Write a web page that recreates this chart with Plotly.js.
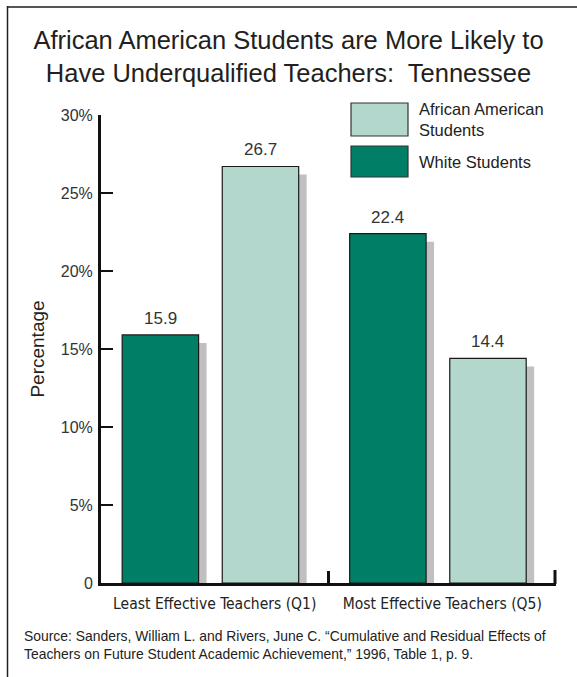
<!DOCTYPE html>
<html>
<head>
<meta charset="utf-8">
<script src="https://cdn.plot.ly/plotly-3.0.1.min.js"></script>
<style>
  html, body { margin: 0; padding: 0; background: #fff; }
  #chart { width: 577px; height: 677px; }
</style>
</head>
<body>
<div id="chart"></div>
<script>
// ---- data ----
const categories = ["Least Effective Teachers (Q1)", "Most Effective Teachers (Q5)"];
const seriesNames = ["White Students", "African American<br>Students"];
const whiteValues = [15.9, 22.4];
const africanAmericanValues = [26.7, 14.4];
const yTickValues = [0, 5, 10, 15, 20, 25, 30];
const yTickLabels = ["0", "5%", "10%", "15%", "20%", "25%", "30%"];
const titleText = "African American Students are More Likely to<br>Have Underqualified Teachers:  Tennessee";
const yTitle = "Percentage";
const sourceText = "Source: Sanders, William L. and Rivers, June C. \u201cCumulative and Residual Effects of<br>Teachers on Future Student Academic Achievement,\u201d 1996, Table 1, p. 9.";

// ---- style ----
const GREEN = "#007f66";
const LIGHT = "#b3d6cd";
const SHADOW = "#c0c0c0";
const EDGE = "#1a1a1a";
const FONT = "Liberation Sans, Arial, sans-serif";
const NARROW = "DejaVu Sans Condensed, Liberation Sans, Arial, sans-serif";

const barW = 0.336;
const offs = [-0.407, 0.033];
const shOffX = 0.035;   // ~8px shadow shift
const shDrop = 0.52;    // ~8px shadow drop in data units

const dropped = arr => arr.map(v => v - shDrop);

const traces = [
  // shadows
  { type: "bar", x: categories, y: dropped(whiteValues), offset: offs[0] + shOffX, width: barW,
    marker: { color: SHADOW, line: { width: 0 } }, hoverinfo: "skip", showlegend: false },
  { type: "bar", x: categories, y: dropped(africanAmericanValues), offset: offs[1] + shOffX, width: barW,
    marker: { color: SHADOW, line: { width: 0 } }, hoverinfo: "skip", showlegend: false },
  // bars
  { type: "bar", name: seriesNames[0], x: categories, y: whiteValues, offset: offs[0], width: barW,
    marker: { color: GREEN, line: { color: EDGE, width: 1.2 } },
    showlegend: false },
  { type: "bar", name: seriesNames[1], x: categories, y: africanAmericanValues, offset: offs[1], width: barW,
    marker: { color: LIGHT, line: { color: EDGE, width: 1.2 } },
    showlegend: false }
];

const px2x = px => (px - 101) / 455;
const px2y = py => (583 - py) / 468;

const legendColors = [GREEN, LIGHT];
const legendBoxes = [
  { y0: 177, y1: 146 },
  { y0: 136, y1: 103 }
];

const shapes = [
  // outer frame (top & left)
  { type: "line", xref: "paper", yref: "paper", x0: px2x(7), x1: px2x(580), y0: px2y(7), y1: px2y(7),
    line: { color: "#555", width: 2 } },
  { type: "line", xref: "paper", yref: "paper", x0: px2x(7.5), x1: px2x(7.5), y0: px2y(6), y1: px2y(690),
    line: { color: "#222", width: 1.5 } },
  // end tick at the right of the x axis
  { type: "line", xref: "paper", yref: "paper", layer: "above", x0: px2x(555), x1: px2x(555),
    y0: px2y(584), y1: px2y(570), line: { color: "#111", width: 3 } }
];
legendBoxes.forEach((b, i) => {
  shapes.push({ type: "rect", xref: "paper", yref: "paper",
    x0: px2x(351), x1: px2x(408), y0: px2y(b.y0), y1: px2y(b.y1),
    fillcolor: legendColors[i], line: { color: "#333", width: 1.2 } });
});

const annotations = [
  { xref: "paper", yref: "paper", x: px2x(417), y: px2y(161.5), xanchor: "left", yanchor: "middle",
    text: seriesNames[0], showarrow: false, align: "left",
    font: { family: FONT, size: 16.5, color: "#222" } },
  { xref: "paper", yref: "paper", x: px2x(417), y: px2y(119.5), xanchor: "left", yanchor: "middle",
    text: seriesNames[1], showarrow: false, align: "left",
    font: { family: FONT, size: 16.5, color: "#222" } },
  { xref: "paper", yref: "paper", x: px2x(22), y: px2y(645), xanchor: "left", yanchor: "middle",
    text: sourceText, showarrow: false, align: "left",
    font: { family: FONT, size: 13.9, color: "#222" } }
];
// value labels above bars (data coordinates)
const seriesValues = [whiteValues, africanAmericanValues];
seriesValues.forEach((vals, s) => {
  vals.forEach((v, i) => {
    annotations.push({ xref: "x", yref: "y", x: i + offs[s] + barW / 2, y: v,
      yanchor: "bottom", yshift: 5, text: v.toFixed(1), showarrow: false,
      font: { family: FONT, size: 17, color: "#333" } });
  });
});

const layout = {
  width: 577, height: 677,
  margin: { l: 101, r: 21, t: 115, b: 94 },
  paper_bgcolor: "#fff", plot_bgcolor: "#fff",
  showlegend: false,
  barmode: "overlay",
  title: { text: titleText, x: 0.5, xanchor: "center", xref: "container", y: 1 - 49 / 677, yanchor: "top",
    font: { family: FONT, size: 25.5, color: "#231f20" } },
  xaxis: {
    type: "category", range: [-0.5, 1.5], fixedrange: true,
    showline: true, linecolor: "#111", linewidth: 3,
    ticks: "inside", tickson: "boundaries", ticklen: 12, tickwidth: 2.5, tickcolor: "#111",
    tickangle: 0,
    tickfont: { family: NARROW, size: 15.5, color: "#222" }, ticklabelstandoff: 4,
    showgrid: false, zeroline: false
  },
  yaxis: {
    range: [0, 30], fixedrange: true,
    tickvals: yTickValues, ticktext: yTickLabels,
    showline: true, linecolor: "#111", linewidth: 3,
    ticks: "inside", ticklen: 12, tickwidth: 2.5, tickcolor: "#111",
    tickfont: { family: FONT, size: 16, color: "#333" }, ticklabelstandoff: 2,
    showgrid: false, zeroline: false,
    title: { text: yTitle, font: { family: FONT, size: 19, color: "#222" }, standoff: 12 }
  },
  shapes: shapes,
  annotations: annotations
};

Plotly.newPlot("chart", traces, layout, { displayModeBar: false, staticPlot: true });
</script>
</body>
</html>
